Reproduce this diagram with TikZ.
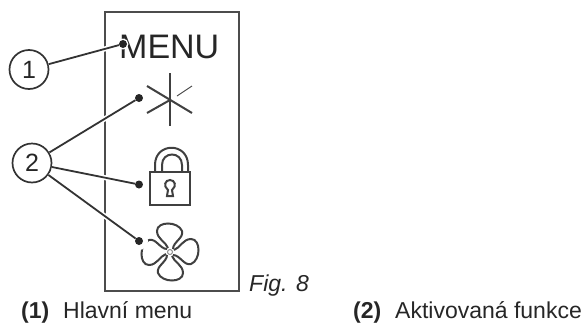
\documentclass[tikz,border=0pt]{standalone}
\usepackage{fontspec}
\setmainfont{Liberation Sans}
\begin{document}
\begin{tikzpicture}[
		x=1pt,
		y=-1pt,
		every node/.style={text=black!85, inner sep=0pt},
		panel/.style={draw=black!70, line width=2pt},
		icon/.style={draw=black!75, line width=2pt},
		callout/.style={circle, draw=black!80, line width=1.7pt, minimum size=39pt, font=\fontsize{25}{25}\selectfont},
		leader/.style={draw=black!80, line width=1.8pt, preaction={draw=white, line width=5pt}},
		tip/.style={circle, fill=black!85, minimum size=8pt},
		ring/.style={circle, fill=white, minimum size=11pt},
		caption/.style={anchor=base west, font=\fontsize{23}{23}\selectfont}
		]
	\useasboundingbox (0, 0) rectangle (587, 322);

	% Panel
	\draw[panel] (105, 12) rectangle (239, 291);
	\node[anchor=base west, font=\fontsize{34}{34}\selectfont] (menu) at (119, 58) {MENU};

	% Star
	\draw[icon] (170, 73) -- (170, 126);
	\draw[icon] (147, 86) -- (192, 113);
	\draw[icon] (147, 113) -- (170, 100);
	\draw[icon, line width=0.9pt] (177, 96) -- (192, 86);

	% Lock
	\draw[icon] (150, 172) rectangle (190, 205);
	\draw[icon] (155, 172) -- (155, 165) .. controls (155, 142) and (188, 142) .. (188, 165) -- (188, 172);
	\draw[icon] (162, 172) -- (162, 165) .. controls (162, 151) and (182, 151) .. (182, 165) -- (182, 172);
	\draw[icon] (168, 190) .. controls (163, 186) and (165, 180) .. (170, 180)
		.. controls (175, 180) and (177, 186) .. (172, 190) -- (173, 196) -- (167, 196) -- cycle;

	% Fan
	\foreach \a in {0, 90, 180, 270}{
		\draw[icon, shift={(170, 252)}, rotate=\a]
			(-2, -4) .. controls (-4, -10) and (-13, -13) .. (-13, -21)
			.. controls (-13, -31) and (8, -31) .. (12, -21)
			.. controls (14, -14) and (3, -10) .. (3, -3);
	}
	\draw[black!45, line width=1pt] (170, 252) circle (2.5pt);

	% Callouts
	\node[callout] (num1) at (29, 69.5) {1};
	\node[callout] (num2) at (32, 163) {2};

	\node[ring] (gapmenu) at (123, 44) {};
	\node[ring, minimum size=18pt] (gapfan) at (139, 241) {};

	\node[tip] (tipmenu) at (123, 44) {};
	\node[tip] (tipstar) at (139, 98) {};
	\node[tip] (tiplock) at (139, 184.5) {};
	\node[tip] (tipfan) at (139, 241) {};

	\draw[leader] (num1) -- (tipmenu);
	\draw[leader] (num2) -- (tipstar);
	\draw[leader] (num2) -- (tiplock);
	\draw[leader] (num2) -- (tipfan);

	% Captions
	\node[caption, font=\fontsize{23}{23}\selectfont\itshape] (fig) at (249, 291) {Fig. 8};
	\node[caption, font=\fontsize{23}{23}\selectfont\bfseries] (cap1) at (21, 318) {(1)};
	\node[caption] (text1) at (63, 318) {Hlavní menu};
	\node[caption, font=\fontsize{23}{23}\selectfont\bfseries] (cap2) at (353, 318) {(2)};
	\node[caption] (text2) at (395, 318) {Aktivovaná funkce};

\end{tikzpicture}
\end{document}
